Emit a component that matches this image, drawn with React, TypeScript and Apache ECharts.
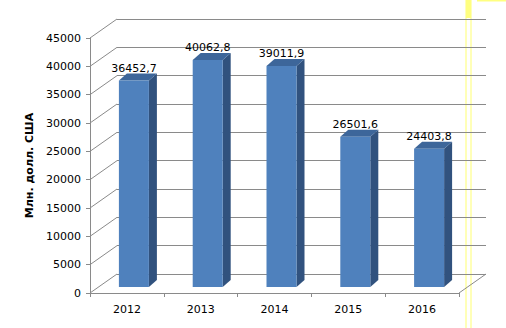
import React, { useEffect, useRef } from "react";
import * as echarts from "echarts";

const years = ["2012", "2013", "2014", "2015", "2016"];
const values = [36452.7, 40062.8, 39011.9, 26501.6, 24403.8];
const yTicks = [0, 5000, 10000, 15000, 20000, 25000, 30000, 35000, 40000, 45000];
const yTitle = "Млн. долл. США";

const FONT = "DejaVu Sans";
const GRID_COLOR = "#8a8a8a";
const WALL_DX = 27;
const WALL_DY = -19;
const BAR_DX = 7;
const BAR_DY = -6;
const BAR_W = 30;
const DEPTH_DX = 8;
const DEPTH_DY = -7;

function fmt(v: number) {
  return v.toFixed(1).replace(".", ",");
}

export default function App() {
  const ref = useRef<HTMLDivElement>(null);
  useEffect(() => {
    if (!ref.current) return;
    const chart = echarts.init(ref.current, undefined, { renderer: "svg" });
    const option: any = {
      animation: false,
      backgroundColor: "#ffffff",
      grid: [
        { left: 90, right: 47, top: 38, bottom: 35 },
        { left: 117, right: 20, top: 19, bottom: 54 },
      ],
      xAxis: [
        {
          type: "category",
          gridIndex: 0,
          data: years,
          boundaryGap: true,
          axisLine: { show: true, lineStyle: { color: GRID_COLOR, width: 1 } },
          axisTick: { show: true, length: 4, lineStyle: { color: GRID_COLOR } },
          axisLabel: { color: "#000", fontFamily: FONT, fontSize: 11, margin: 11 },
          splitLine: { show: false },
        },
        {
          type: "category",
          gridIndex: 1,
          data: years,
          show: false,
        },
      ],
      yAxis: [
        {
          type: "value",
          gridIndex: 0,
          min: 0,
          max: 45000,
          interval: 5000,
          name: yTitle,
          nameLocation: "middle",
          nameGap: 54,
          nameRotate: 90,
          nameTextStyle: { color: "#000", fontFamily: FONT, fontSize: 11, fontWeight: "bold" },
          axisLine: { show: true, lineStyle: { color: GRID_COLOR, width: 1 } },
          axisTick: { show: true, length: 4, lineStyle: { color: GRID_COLOR } },
          axisLabel: {
            color: "#000",
            fontFamily: FONT,
            fontSize: 11,
            margin: 9,
            formatter: (v: number) => String(v),
          },
          splitLine: { show: false },
        },
        {
          type: "value",
          gridIndex: 1,
          min: 0,
          max: 45000,
          interval: 5000,
          show: true,
          axisLine: { show: false },
          axisTick: { show: false },
          axisLabel: { show: false },
          splitLine: { show: true, lineStyle: { color: GRID_COLOR, width: 1 } },
        },
      ],
      series: [
        {
          type: "custom",
          xAxisIndex: 0,
          yAxisIndex: 0,
          silent: true,
          data: yTicks.map((t) => [0, t]),
          renderItem: (params: any, api: any) => {
            const cs = params.coordSys;
            const y = api.coord([0, api.value(1)])[1];
            const children: any[] = [
              {
                type: "line",
                shape: { x1: cs.x, y1: y, x2: cs.x + WALL_DX, y2: y + WALL_DY },
                style: { stroke: GRID_COLOR, lineWidth: 1 },
              },
            ];
            if (api.value(1) === 0) {
              children.push({
                type: "line",
                shape: { x1: cs.x + cs.width, y1: y, x2: cs.x + cs.width + WALL_DX, y2: y + WALL_DY },
                style: { stroke: GRID_COLOR, lineWidth: 1 },
              });
            }
            return { type: "group", children };
          },
        },
        {
          type: "custom",
          xAxisIndex: 0,
          yAxisIndex: 0,
          silent: true,
          data: values.map((v, i) => [i, v]),
          renderItem: (params: any, api: any) => {
            const i = api.value(0);
            const v = api.value(1);
            const top = api.coord([i, v]);
            const base = api.coord([i, 0]);
            const cx = top[0] + BAR_DX;
            const x0 = cx - 15;
            const x1 = x0 + BAR_W;
            const yt = top[1] + BAR_DY;
            const yb = base[1] + BAR_DY;
            return {
              type: "group",
              children: [
                {
                  type: "polygon",
                  shape: {
                    points: [
                      [x1, yt],
                      [x1 + DEPTH_DX, yt + DEPTH_DY],
                      [x1 + DEPTH_DX, yb + DEPTH_DY],
                      [x1, yb],
                    ],
                  },
                  style: { fill: "#31527e" },
                },
                {
                  type: "polygon",
                  shape: {
                    points: [
                      [x0, yt],
                      [x0 + DEPTH_DX, yt + DEPTH_DY],
                      [x1 + DEPTH_DX, yt + DEPTH_DY],
                      [x1, yt],
                    ],
                  },
                  style: { fill: "#3d669a" },
                },
                {
                  type: "rect",
                  shape: { x: x0, y: yt, width: BAR_W, height: yb - yt },
                  style: { fill: "#4f81bd" },
                },
                {
                  type: "text",
                  style: {
                    text: fmt(v),
                    x: cx,
                    y: yt - 12,
                    align: "center",
                    verticalAlign: "middle",
                    fill: "#000",
                    fontFamily: FONT,
                    fontSize: 11,
                  },
                },
              ],
            };
          },
        },
      ],
      graphic: [
        { type: "line", shape: { x1: 466, y1: 0, x2: 466, y2: 328 }, style: { stroke: "#ffff70", lineWidth: 1 } },
        { type: "line", shape: { x1: 471, y1: 0, x2: 471, y2: 328 }, style: { stroke: "#ffff70", lineWidth: 1 } },
        { type: "rect", shape: { x: 466, y: 0, width: 5, height: 18 }, style: { fill: "#ffff80" } },
        { type: "rect", shape: { x: 477, y: 0, width: 29, height: 1.5 }, style: { fill: "#ffff80" } },
      ],
    };
    chart.setOption(option);
    return () => chart.dispose();
  }, []);
  return (
    <div
      ref={ref}
      style={{ position: "absolute", left: 0, top: 0, width: 506, height: 328 }}
    />
  );
}
